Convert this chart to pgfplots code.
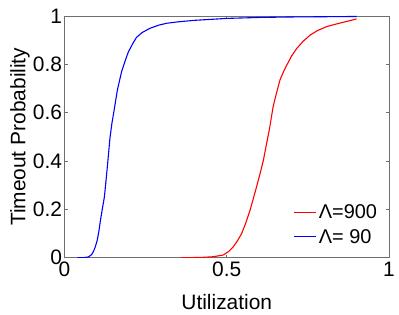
\documentclass[border=0pt]{standalone}
\usepackage{pgfplots}
\pgfplotsset{compat=1.18}
\usepackage{fontspec}
\setmainfont{Liberation Sans}
\definecolor{axgray}{RGB}{110,110,110}
\begin{document}
\begin{tikzpicture}
\useasboundingbox (0,0) rectangle (399bp,315bp);
\begin{axis}[
  at={(64.5bp,57.3bp)}, anchor=south west,
  scale only axis, width=324.5bp, height=241.7bp,
  xmin=0, xmax=1, ymin=0, ymax=1,
  xtick={0,0.5,1}, ytick={0,0.2,0.4,0.6,0.8,1},
  xticklabels={0,0.5,1}, yticklabels={0,0.2,0.4,0.6,0.8,1},
  tick align=inside, major tick length=3bp,
  axis line style={axgray, line width=0.8bp},
  every tick/.style={axgray, line width=0.8bp},
  ticklabel style={font=\fontsize{21}{24}\selectfont},
  xticklabel style={yshift=-1bp},
  yticklabel style={xshift=1bp},
  label style={font=\fontsize{21}{25}\selectfont},
  xlabel={Utilization}, ylabel={Timeout Probability},
  xlabel style={at={(0.5,0)}, anchor=center, yshift=-44bp},
  ylabel style={at={(0,0.5)}, anchor=center, yshift=44.5bp},
  legend style={draw=none, fill=none, at={(0.97,0.045)}, anchor=south east,
    font=\fontsize{20}{23}\selectfont, row sep=5bp, inner sep=0pt},
  legend cell align=left,
  legend image code/.code={\draw[#1] (0bp,0bp) -- (22bp,0bp);},
]
\addplot[red, line width=1.1bp] coordinates {
(0.36,0) (0.42,0.001) (0.458,0.004) (0.489,0.011) (0.505,0.025) (0.52,0.045)
(0.533,0.07) (0.546,0.1) (0.559,0.145) (0.572,0.197) (0.582,0.245) (0.592,0.294)
(0.603,0.35) (0.613,0.404) (0.621,0.46) (0.631,0.528) (0.643,0.625) (0.654,0.685)
(0.664,0.735) (0.675,0.77) (0.685,0.797) (0.70,0.835) (0.716,0.866) (0.735,0.895)
(0.757,0.921) (0.78,0.94) (0.808,0.956) (0.835,0.966) (0.859,0.974) (0.88,0.981) (0.9,0.988)
};
\addlegendentry{Λ=900}
\addplot[blue, line width=1.1bp] coordinates {
(0.04,0) (0.058,0) (0.073,0.003) (0.083,0.012) (0.089,0.025) (0.095,0.045)
(0.101,0.073) (0.106,0.11) (0.111,0.156) (0.117,0.205) (0.123,0.252) (0.128,0.32)
(0.133,0.39) (0.140,0.494) (0.146,0.555) (0.153,0.611) (0.163,0.694) (0.176,0.77)
(0.187,0.815) (0.197,0.852) (0.21,0.885) (0.222,0.912) (0.24,0.932) (0.263,0.949)
(0.29,0.962) (0.315,0.97) (0.351,0.976) (0.4,0.982) (0.5,0.99) (0.6,0.994)
(0.7,0.996) (0.8,0.997) (0.9,0.998)
};
\addlegendentry{Λ= 90}
\end{axis}
\end{tikzpicture}
\end{document}
